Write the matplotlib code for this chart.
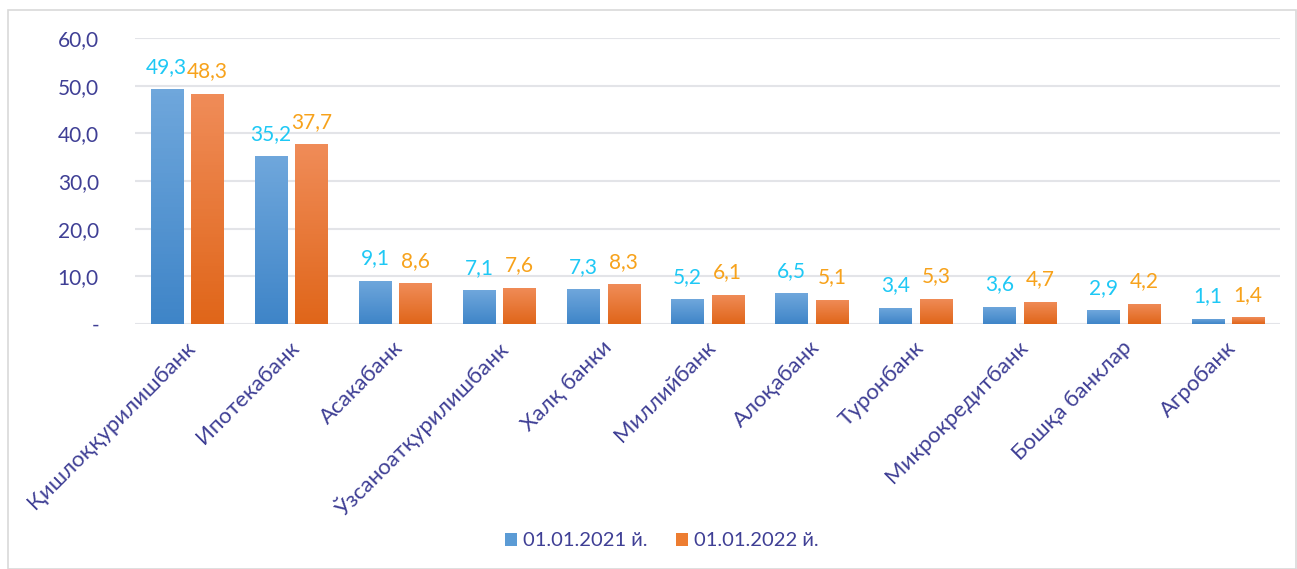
import numpy as np
import matplotlib.pyplot as plt
from matplotlib.patches import Rectangle
from matplotlib.colors import LinearSegmentedColormap
from matplotlib.transforms import ScaledTranslation

banks = ['Қишлоққурилишбанк', 'Ипотекабанк', 'Асакабанк', 'Ўзсаноатқурилишбанк',
         'Халқ банки', 'Миллийбанк', 'Алоқабанк', 'Туронбанк', 'Микрокредитбанк',
         'Бошқа банклар', 'Агробанк']
y2021 = [49.3, 35.2, 9.1, 7.1, 7.3, 5.2, 6.5, 3.4, 3.6, 2.9, 1.1]
y2022 = [48.3, 37.7, 8.6, 7.6, 8.3, 6.1, 5.1, 5.3, 4.7, 4.2, 1.4]
series_names = ['01.01.2021 й.', '01.01.2022 й.']

plt.rcParams['font.family'] = ['Lato', 'Open Sans', 'DejaVu Sans']
text_col = '#3f3f95'

fig = plt.figure(figsize=(12.97, 5.69), dpi=100)
ax = fig.add_axes([135 / 1297, 1 - 324 / 569, 1145 / 1297, 286 / 569])

# outer chart border
fig.patches.append(Rectangle((8 / 1297, 0), 1288 / 1297, 1 - 10 / 569, transform=fig.transFigure,
                             fill=False, edgecolor='#d9d9d9', linewidth=1.2))

x = np.arange(len(banks))
w = 0.31
gap = 0.08
blue_cm = LinearSegmentedColormap.from_list('b', ['#3f85c8', '#6fa7dc'])
orange_cm = LinearSegmentedColormap.from_list('o', ['#e0661a', '#f08c58'])
grad = np.linspace(0, 1, 64).reshape(-1, 1)

bars1 = ax.bar(x - (w + gap) / 2, y2021, w, color='#5b9bd5', zorder=2, label=series_names[0])
bars2 = ax.bar(x + (w + gap) / 2, y2022, w, color='#ed7d31', zorder=2, label=series_names[1])
for bars, cm in ((bars1, blue_cm), (bars2, orange_cm)):
    for b in bars:
        x0, h = b.get_x(), b.get_height()
        im = ax.imshow(grad, cmap=cm, aspect='auto', origin='lower',
                       extent=(x0, x0 + b.get_width(), 0, h), zorder=3)
        im.set_clip_path(b)

for xi, v in zip(x, y2021):
    ax.text(xi - (w + gap) / 2, v + 2.6, f'{v:.1f}'.replace('.', ','), ha='center', va='bottom',
            color='#1ec8f5', fontsize=15)
for xi, v in zip(x, y2022):
    ax.text(xi + (w + gap) / 2, v + 2.6, f'{v:.1f}'.replace('.', ','), ha='center', va='bottom',
            color='#f7a21b', fontsize=15)

ax.set_xlim(-0.5, len(banks) - 0.5)
ax.set_ylim(0, 60)
ax.set_yticks(np.arange(0, 61, 10))
ax.set_yticklabels(['-'] + [f'{t:.1f}'.replace('.', ',') for t in range(10, 61, 10)])
ax.yaxis.grid(True, color='#e3e4e8', linewidth=1.5, zorder=0)
ax.set_axisbelow(True)
for s in ax.spines.values():
    s.set_visible(False)
ax.tick_params(axis='y', length=0, pad=26, labelsize=15, labelcolor=text_col)
ax.tick_params(axis='x', length=0, pad=6)
ax.set_xticks(x)
ax.set_xticklabels(banks, rotation=45, ha='right', va='top', rotation_mode='anchor',
                   fontsize=16, color=text_col)
shift = ScaledTranslation(-0.02, -0.05, fig.dpi_scale_trans)
for lbl in ax.get_xticklabels():
    lbl.set_transform(lbl.get_transform() + shift)

leg = fig.legend(handles=[bars1, bars2], labels=series_names, loc='center',
                 bbox_to_anchor=(0.51, 1 - 541 / 569), ncol=2, frameon=False,
                 fontsize=14.5, handlelength=0.6, handleheight=0.6, columnspacing=1.4,
                 handletextpad=0.3)
for t in leg.get_texts():
    t.set_color(text_col)

fig.savefig('out.png', dpi=100)
